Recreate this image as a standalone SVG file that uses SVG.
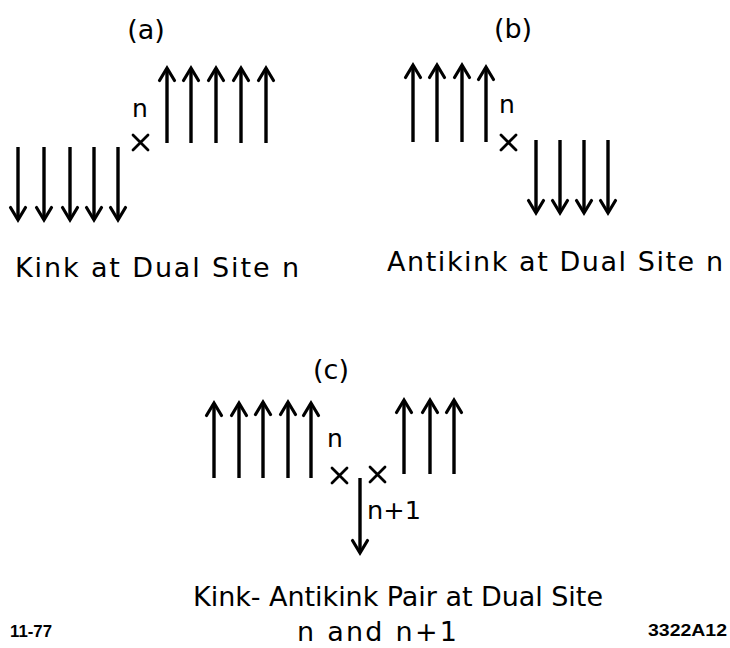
<svg xmlns="http://www.w3.org/2000/svg" width="730" height="648" viewBox="0 0 730 648">
<style>
.sp{stroke:#000;stroke-width:3.4;fill:none;marker-end:url(#head)}
.x{stroke:#000;stroke-width:2.8;fill:none;stroke-linecap:round}
text{font-family:"DejaVu Sans","Liberation Sans",sans-serif;fill:#000}
.t{font-size:27px}
.s{font-size:25px}
.c{font-size:17px;font-weight:bold;font-family:"Liberation Sans",sans-serif}
</style>
<defs>
<marker id="head" markerUnits="userSpaceOnUse" viewBox="0 0 16 18" markerWidth="16" markerHeight="18" refX="14" refY="9" orient="auto" overflow="visible">
<path d="M1.5,1.5 L14,9 L1.5,16.5" stroke="#000" stroke-width="3.2" fill="none" stroke-linejoin="miter" stroke-linecap="round"/>
</marker>
</defs>
<rect width="730" height="648" fill="#fff"/>

<g id="panel-a">
<text class="t" x="146" y="39" text-anchor="middle">(a)</text>
<g id="a-up">
<line class="sp" x1="167" y1="143" x2="167" y2="68"/>
<line class="sp" x1="191" y1="143" x2="191" y2="68"/>
<line class="sp" x1="216" y1="143" x2="216" y2="68"/>
<line class="sp" x1="241" y1="143" x2="241" y2="68"/>
<line class="sp" x1="266" y1="143" x2="266" y2="68"/>
</g>
<g id="a-down">
<line class="sp" x1="18" y1="147" x2="18" y2="220"/>
<line class="sp" x1="44" y1="147" x2="44" y2="220"/>
<line class="sp" x1="70" y1="147" x2="70" y2="220"/>
<line class="sp" x1="94" y1="147" x2="94" y2="220"/>
<line class="sp" x1="118" y1="147" x2="118" y2="220"/>
</g>
<text class="s" x="140" y="117" text-anchor="middle">n</text>
<path class="x" d="M133,135 L148,150 M148,135 L133,150"/>
<text class="t" x="15" y="277" textLength="284" lengthAdjust="spacing">Kink at Dual Site n</text>
</g>

<g id="panel-b">
<text class="t" x="513" y="38" text-anchor="middle">(b)</text>
<g id="b-up">
<line class="sp" x1="413" y1="142" x2="413" y2="65"/>
<line class="sp" x1="437" y1="142" x2="437" y2="65"/>
<line class="sp" x1="462" y1="142" x2="462" y2="65"/>
<line class="sp" x1="486" y1="142" x2="486" y2="67"/>
</g>
<g id="b-down">
<line class="sp" x1="536" y1="140" x2="536" y2="213"/>
<line class="sp" x1="560" y1="140" x2="560" y2="213"/>
<line class="sp" x1="584" y1="140" x2="584" y2="213"/>
<line class="sp" x1="608" y1="140" x2="608" y2="213"/>
</g>
<text class="s" x="507" y="113" text-anchor="middle">n</text>
<path class="x" d="M501,135 L516,150 M516,135 L501,150"/>
<text class="t" x="387" y="271" textLength="336" lengthAdjust="spacing">Antikink at Dual Site n</text>
</g>

<g id="panel-c">
<text class="t" x="331" y="379" text-anchor="middle">(c)</text>
<g id="c-up-left">
<line class="sp" x1="214" y1="478" x2="214" y2="403"/>
<line class="sp" x1="239" y1="478" x2="239" y2="403"/>
<line class="sp" x1="263" y1="478" x2="263" y2="402"/>
<line class="sp" x1="288" y1="478" x2="288" y2="402"/>
<line class="sp" x1="311" y1="478" x2="311" y2="403"/>
</g>
<g id="c-up-right">
<line class="sp" x1="404" y1="474" x2="404" y2="400"/>
<line class="sp" x1="430" y1="474" x2="430" y2="400"/>
<line class="sp" x1="454" y1="474" x2="454" y2="400"/>
</g>
<g id="c-down">
<line class="sp" x1="360" y1="478" x2="360" y2="553"/>
</g>
<text class="s" x="335" y="447" text-anchor="middle">n</text>
<path class="x" d="M332,468 L347,483 M347,468 L332,483"/>
<path class="x" d="M370,467 L385,482 M385,467 L370,482"/>
<text class="s" x="367" y="519" textLength="54" lengthAdjust="spacingAndGlyphs">n+1</text>
<text class="t" x="193" y="606" textLength="410" lengthAdjust="spacing">Kink- Antikink Pair at Dual Site</text>
<text class="t" x="297" y="641" textLength="160" lengthAdjust="spacing">n  and n+1</text>
</g>

<g id="footer">
<text class="c" x="10" y="637" textLength="42" lengthAdjust="spacingAndGlyphs">11-77</text>
<text class="c" x="648" y="636" textLength="79" lengthAdjust="spacingAndGlyphs">3322A12</text>
</g>
</svg>
